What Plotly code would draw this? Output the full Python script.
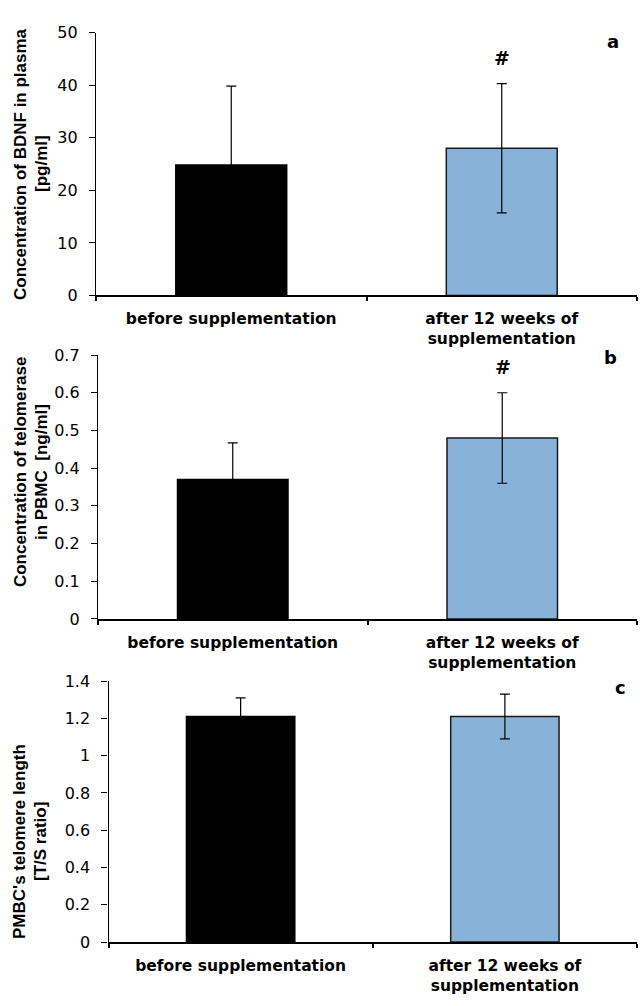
import plotly.graph_objects as go

categories = ["before supplementation", "after 12 weeks of<br>supplementation"]

bdnf_values = [24.8, 28.0]
bdnf_errors = [15.0, 12.3]

telomerase_values = [0.37, 0.48]
telomerase_errors = [0.097, 0.12]

telomere_values = [1.21, 1.21]
telomere_errors = [0.10, 0.12]

bar_colors = ["#000000", "#88B2D8"]
bar_line_colors = ["#000000", "#1a1a1a"]

panels = [
    dict(values=bdnf_values, errors=bdnf_errors, ymax=50, dtick=10,
         xdom=[96 / 640, 637 / 640], ydom=[1 - 292 / 1006, 1 - 24 / 1006],
         title=["Concentration of BDNF in plasma", "[pg/ml]"], tcy=158,
         letter="a", lxy=(613, 33), sig=True, sxy=(502, 50)),
    dict(values=telomerase_values, errors=telomerase_errors, ymax=0.7, dtick=0.1,
         xdom=[98 / 640, 637 / 640], ydom=[1 - 621.7 / 1006, 1 - 352.7 / 1006],
         title=["Concentration of telomerase", "in PBMC  [ng/ml]"], tcy=472,
         letter="b", lxy=(610, 355), sig=True, sxy=(503, 365)),
    dict(values=telomere_values, errors=telomere_errors, ymax=1.4, dtick=0.2,
         xdom=[108.5 / 640, 637 / 640], ydom=[1 - 951 / 1006, 1 - 685 / 1006],
         title=["PMBC's telomere length", "[T/S ratio]"], tcy=849,
         letter="c", lxy=(620, 692), sig=False, sxy=None),
]

W, H = 640, 1006
fig = go.Figure()
annotations = []
FONT = "DejaVu Sans"
TITLE_FONT = "Liberation Sans"

for i, p in enumerate(panels):
    idx = "" if i == 0 else str(i + 1)
    fig.add_trace(go.Bar(
        x=categories, y=p["values"],
        width=0.41,
        marker=dict(color=bar_colors, line=dict(color=bar_line_colors, width=1.5)),
        error_y=dict(type="data", array=p["errors"], visible=True,
                     color="#000000", thickness=1.2, width=5),
        xaxis="x" + idx, yaxis="y" + idx, showlegend=False,
    ))
    fig.update_layout(**{
        "xaxis" + idx: dict(
            domain=p["xdom"], anchor="y" + idx, type="category",
            range=[-0.5, 1.5], showline=True, linecolor="#000000", linewidth=2,
            ticks="outside", tickson="boundaries", ticklen=4, tickcolor="#000000",
            tickwidth=1.5, showgrid=False, zeroline=False,
            tickfont=dict(family=FONT, size=15.5, color="#000000", weight="bold"),
            ticklabelstandoff=8,
        ),
        "yaxis" + idx: dict(
            domain=p["ydom"], anchor="x" + idx, range=[0, p["ymax"]],
            dtick=p["dtick"], tick0=0, showline=True, linecolor="#000000",
            linewidth=1.3, ticks="outside", ticklen=6, tickcolor="#000000",
            tickwidth=1, showgrid=False, zeroline=False,
            tickfont=dict(family=FONT, size=16, color="#000000"),
            ticklabelstandoff=8,
        ),
    })
    for j, (line, xc) in enumerate(zip(p["title"], [20, 41])):
        annotations.append(dict(
            text="<b>" + line + "</b>", x=xc / W, y=1 - p["tcy"] / H,
            xref="paper", yref="paper", showarrow=False, textangle=-90,
            xanchor="center", yanchor="middle",
            font=dict(family=TITLE_FONT, size=17, color="#000000"),
        ))
    annotations.append(dict(
        text="<b>" + p["letter"] + "</b>", x=p["lxy"][0] / W, y=1 - p["lxy"][1] / H,
        xref="paper", yref="paper", showarrow=False, xanchor="center", yanchor="middle",
        font=dict(family=FONT, size=18, color="#000000"),
    ))
    if p["sig"]:
        annotations.append(dict(
            text="<b>#</b>", x=p["sxy"][0] / W, y=1 - p["sxy"][1] / H,
            xref="paper", yref="paper", showarrow=False, xanchor="center", yanchor="middle",
            font=dict(family=FONT, size=19, color="#000000"),
        ))

fig.update_layout(
    width=W, height=H, margin=dict(l=0, r=0, t=0, b=0),
    paper_bgcolor="#ffffff", plot_bgcolor="#ffffff",
    annotations=annotations, bargap=0.59,
)

fig.write_html(
    "out.html",
    config={"displayModeBar": False},
    post_script="document.body.style.margin='0';document.body.style.padding='0';"
                "document.documentElement.style.overflow='hidden';",
)
